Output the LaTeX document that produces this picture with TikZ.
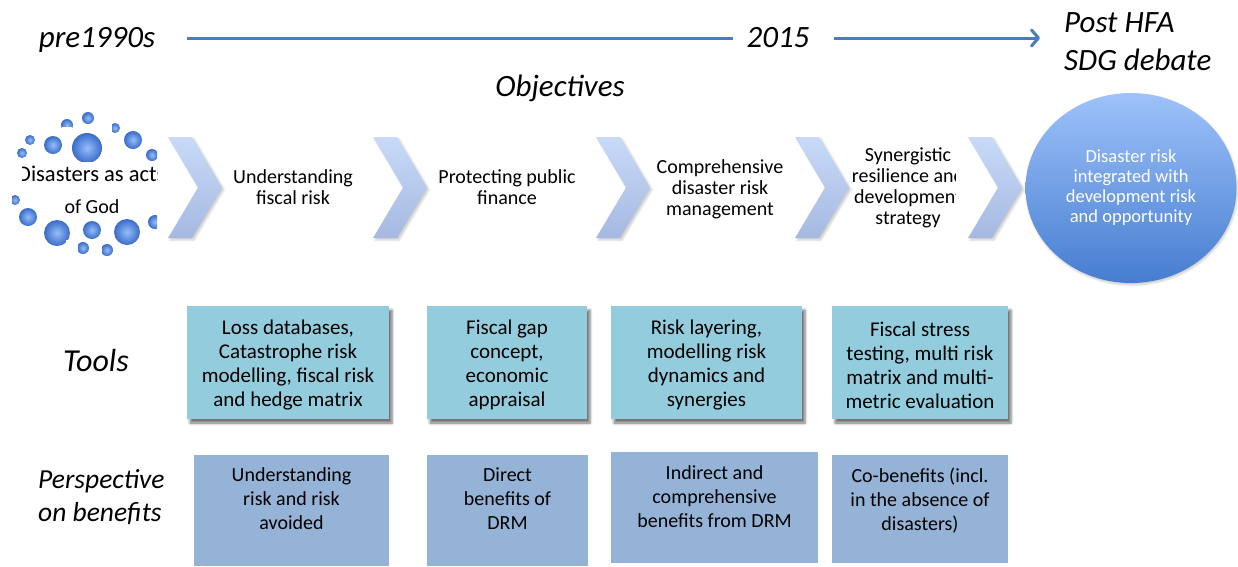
\documentclass[tikz,border=0pt]{standalone}
\usepackage{fontspec}
\setmainfont{Carlito}
\usetikzlibrary{shapes.geometric,shadows.blur,arrows.meta}
\definecolor{lineblue}{RGB}{74,126,187}
\definecolor{chevtop}{RGB}{200,218,248}
\definecolor{chevbot}{RGB}{165,185,225}
\definecolor{toolfill}{RGB}{147,205,221}
\definecolor{benfill}{RGB}{149,179,215}
\definecolor{goaltop}{RGB}{158,194,250}
\definecolor{goalbot}{RGB}{70,125,208}
\definecolor{balllight}{RGB}{150,190,250}
\definecolor{balldark}{RGB}{58,108,200}
\begin{document}
\begin{tikzpicture}[x=1pt,y=-1pt,
  title/.style={font=\fontsize{31}{38}\selectfont\itshape, align=left, inner sep=0pt},
  sidelabel/.style={font=\fontsize{27.5}{33}\selectfont\itshape, align=left, inner sep=0pt},
  steptext/.style={font=\fontsize{20}{21}\selectfont, align=center, inner sep=0pt},
  goaltext/.style={font=\fontsize{18.5}{20}\selectfont, align=center, text=white},
  toolbox/.style={fill=toolfill, draw=none, inner sep=0pt, align=center,
    font=\fontsize{21}{24}\selectfont,
    blur shadow={shadow xshift=3pt, shadow yshift=-4pt, shadow blur radius=2.5pt, shadow opacity=55}},
  toolbody/.style={font=\fontsize{21}{24}\selectfont, align=center, inner sep=0pt},
  benbox/.style={fill=benfill, draw=none, inner sep=0pt},
  bentext/.style={font=\fontsize{20}{24}\selectfont, align=center, inner sep=0pt, anchor=north},
  chevshape/.style={top color=chevtop, bottom color=chevbot, draw=none,
    blur shadow={shadow xshift=2pt, shadow yshift=-2pt, shadow blur radius=2pt, shadow opacity=20}},
  bead/.style={inner color=balllight, outer color=balldark, draw=none},
  chevron/.pic={\path[chevshape] (0,0) -- (24,0) -- (54,50.5) -- (24,101) -- (0,101) -- (30,50.5) -- cycle;}
]
\useasboundingbox (0,0) rectangle (1238,566);

% timeline
\node[title] (pre) at (97,40) {pre1990s};
\node[title] (y2015) at (778,38) {2015};
\node[title, anchor=west] (post) at (1064,42) {Post HFA\\SDG debate};
\coordinate (astart) at (187,38);
\coordinate (aend) at (1040,38);
\draw[lineblue, line width=3pt, shorten >=13pt] (astart) -- (y2015.west);
\draw[lineblue, line width=3pt, shorten <=24pt, -{Straight Barb[length=7pt,width=16pt,round]}] (y2015.east) -- (aend);

\node[title] (obj) at (560,88) {Objectives};

% left ring
\begin{scope}
  \clip (12,105) rectangle (157,262);
  \foreach \x/\y/\r in {88/118/6, 67/125/6, 87/148/15, 53/145/9, 30/140/5, 22/153/5,
      115/128/5, 133/140/9, 152/155/6, 157/172/4, 15/200/5, 28/217/9, 57/233/13,
      92/230/9, 127/232/13, 155/222/7, 83/248/6, 107/250/6}
    \path[bead] (\x,\y) circle[radius=\r];
  \fill[white] (14,162) rectangle (157,190);
  \fill[white] (40,193) rectangle (148,219);
  \fill[white] (62,127) rectangle (72,134);
  \fill[white] (107,124) rectangle (112,136);
  \fill[white] (66,240) rectangle (78,257);
  \fill[white] (96,242) rectangle (102,257);
\end{scope}
\begin{scope}
  \clip (22,105) rectangle (157,262);
  \node[font=\fontsize{22.5}{22}\selectfont, inner sep=0pt, anchor=west] (god1) at (17,174) {Disasters as acts};
  \node[font=\fontsize{20}{20}\selectfont, inner sep=0pt] (god2) at (92,207) {of God};
\end{scope}

% chevrons
\pic at (168,137) {chevron};
\pic at (373,137) {chevron};
\pic at (596,137) {chevron};
\pic at (795,137) {chevron};
\pic at (968,137) {chevron};

\node[steptext] (s1) at (293,187) {Understanding\\fiscal risk};
\node[steptext] (s2) at (507,187) {Protecting public\\finance};
\node[steptext] (s3) at (720,189) {Comprehensive\\disaster risk\\management};
\begin{scope}
  \clip (850,130) rectangle (955,245);
  \node[steptext] (s4) at (908,188) {Synergistic\\resilience and\\development\\strategy};
\end{scope}

\node[ellipse, minimum width=211pt, minimum height=190pt, inner sep=0pt,
  top color=goaltop, bottom color=goalbot, draw=none, goaltext,
  blur shadow={shadow xshift=1pt, shadow yshift=-2pt, shadow blur radius=2pt, shadow opacity=20}]
  (goal) at (1131,188) {Disaster risk\\integrated with\\development risk\\and opportunity};

% tools row
\node[sidelabel, font=\fontsize{32}{33}\selectfont\itshape] (tools) at (96,360) {Tools};
\node[toolbox, minimum width=202pt, minimum height=113pt] (t1) at (288,362.5) {};
\node[toolbox, minimum width=160pt, minimum height=113pt] (t2) at (507,362.5) {};
\node[toolbox, minimum width=191pt, minimum height=113pt] (t3) at (706.5,362.5) {};
\node[toolbox, minimum width=176pt, minimum height=113pt] (t4) at (920,362.5) {};
\node[toolbody] (tt1) at ([yshift=-2.5pt]t1.center) {Loss databases,\\Catastrophe risk\\modelling, fiscal risk\\and hedge matrix};
\node[toolbody] (tt2) at ([yshift=-2.5pt]t2.center) {Fiscal gap\\concept,\\economic\\appraisal};
\node[toolbody] (tt3) at ([yshift=-2.5pt]t3.center) {Risk layering,\\modelling risk\\dynamics and\\synergies};
\node[toolbody] (tt4) at ([yshift=-2.5pt]t4.center) {Fiscal stress\\testing, multi risk\\matrix and multi-\\metric evaluation};

% benefits row
\node[sidelabel, anchor=west] (persp) at (38,497) {Perspective\\on benefits};
\node[benbox, minimum width=195pt, minimum height=111pt] (b1) at (291.5,510.5) {};
\node[benbox, minimum width=161pt, minimum height=111pt] (b2) at (507.5,510.5) {};
\node[benbox, minimum width=207pt, minimum height=111pt] (b3) at (714.5,507.5) {};
\node[benbox, minimum width=176pt, minimum height=108pt] (b4) at (920,509) {};
\node[bentext] (bt1) at ([yshift=-13pt]b1.north) {Understanding\\risk and risk\\avoided};
\node[bentext] (bt2) at ([yshift=-13pt]b2.north) {Direct\\benefits of\\DRM};
\node[bentext] (bt3) at ([yshift=-14pt]b3.north) {Indirect and\\comprehensive\\benefits from DRM};
\node[bentext] (bt4) at ([yshift=-13pt]b4.north) {Co-benefits (incl.\\in the absence of\\disasters)};
\end{tikzpicture}
\end{document}
